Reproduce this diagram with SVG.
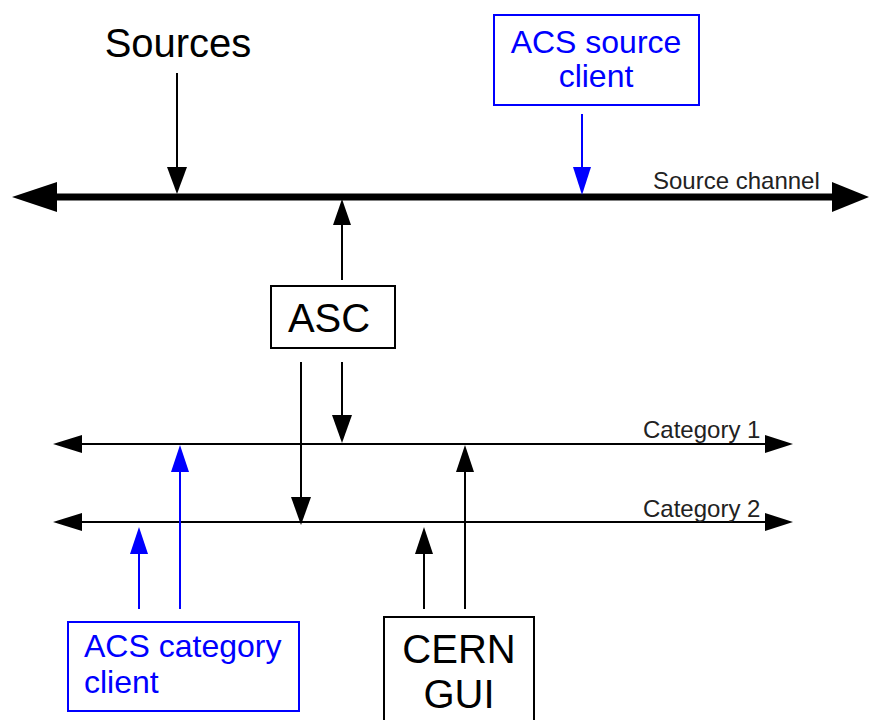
<svg xmlns="http://www.w3.org/2000/svg" width="869" height="720" viewBox="0 0 869 720">
<style>
text{font-family:"Liberation Sans",Arial,sans-serif}
.big{font-size:40px;fill:#000}
.blue{font-size:32px;fill:#0000ff}
.lbl{font-size:24px;fill:#222}
.k{stroke:#000;stroke-width:2;fill:none}
.b{stroke:#0000ff;stroke-width:2;fill:none}
.box{fill:#fff;stroke:#000;stroke-width:2}
.bbox{fill:#fff;stroke:#0000ff;stroke-width:2}
.hk{fill:#000}
.hb{fill:#0000ff}
</style>
<rect width="869" height="720" fill="#fff"/>
<g id="connectors">
  <!-- Source channel -->
  <line x1="50" y1="197" x2="840" y2="197" stroke="#000" stroke-width="7"/>
  <polygon class="hk" points="12,197 57,182 57,212"/>
  <polygon class="hk" points="869,197 832,182 832,212"/>
  <!-- Category 1 -->
  <line class="k" x1="75" y1="444" x2="770" y2="444"/>
  <polygon class="hk" points="53,444 82,435 82,453"/>
  <polygon class="hk" points="793,444 765,435 765,453"/>
  <!-- Category 2 -->
  <line class="k" x1="75" y1="522" x2="770" y2="522"/>
  <polygon class="hk" points="53,522 82,513 82,531"/>
  <polygon class="hk" points="793,522 765,513 765,531"/>
  <!-- Sources arrow -->
  <line class="k" x1="177" y1="73" x2="177" y2="170"/>
  <polygon class="hk" points="177,194 167,167 187,167"/>
  <!-- ACS source client arrow -->
  <line class="b" x1="582" y1="114" x2="582" y2="170"/>
  <polygon class="hb" points="582,195 573,167 591,167"/>
  <!-- ASC up to source channel -->
  <line class="k" x1="342" y1="280" x2="342" y2="222"/>
  <polygon class="hk" points="342,199 333,225 351,225"/>
  <!-- ASC down to category 1 -->
  <line class="k" x1="342" y1="362" x2="342" y2="418"/>
  <polygon class="hk" points="342,443 332,415 352,415"/>
  <!-- ASC down to category 2 -->
  <line class="k" x1="301" y1="362" x2="301" y2="498"/>
  <polygon class="hk" points="301,525 291,497 311,497"/>
  <!-- ACS category client arrows -->
  <line class="b" x1="180" y1="609" x2="180" y2="470"/>
  <polygon class="hb" points="180,445 171,472 189,472"/>
  <line class="b" x1="139" y1="609" x2="139" y2="552"/>
  <polygon class="hb" points="139,527 130,554 148,554"/>
  <!-- CERN GUI arrows -->
  <line class="k" x1="424" y1="609" x2="424" y2="552"/>
  <polygon class="hk" points="424,527 415,554 433,554"/>
  <line class="k" x1="465" y1="609" x2="465" y2="470"/>
  <polygon class="hk" points="465,445 456,472 474,472"/>
</g>
<g id="sources">
  <text class="big" x="178" y="57" text-anchor="middle">Sources</text>
</g>
<g id="acs-source-client">
  <rect class="bbox" x="494" y="15" width="205" height="90"/>
  <text class="blue" x="596" y="53" text-anchor="middle">ACS source</text>
  <text class="blue" x="596" y="87" text-anchor="middle">client</text>
</g>
<g id="source-channel-label">
  <text class="lbl" x="653" y="189">Source channel</text>
</g>
<g id="asc">
  <rect class="box" x="271" y="286" width="124" height="62"/>
  <text class="big" x="329" y="332" text-anchor="middle">ASC</text>
</g>
<g id="category1-label">
  <text class="lbl" x="643" y="438">Category 1</text>
</g>
<g id="category2-label">
  <text class="lbl" x="643" y="517">Category 2</text>
</g>
<g id="acs-category-client">
  <rect class="bbox" x="68" y="622" width="231" height="89"/>
  <text class="blue" x="84" y="657">ACS category</text>
  <text class="blue" x="84" y="693">client</text>
</g>
<g id="cern-gui">
  <rect class="box" x="384" y="617" width="150" height="110"/>
  <text class="big" x="459" y="663" text-anchor="middle">CERN</text>
  <text class="big" x="459" y="708" text-anchor="middle">GUI</text>
</g>
</svg>
